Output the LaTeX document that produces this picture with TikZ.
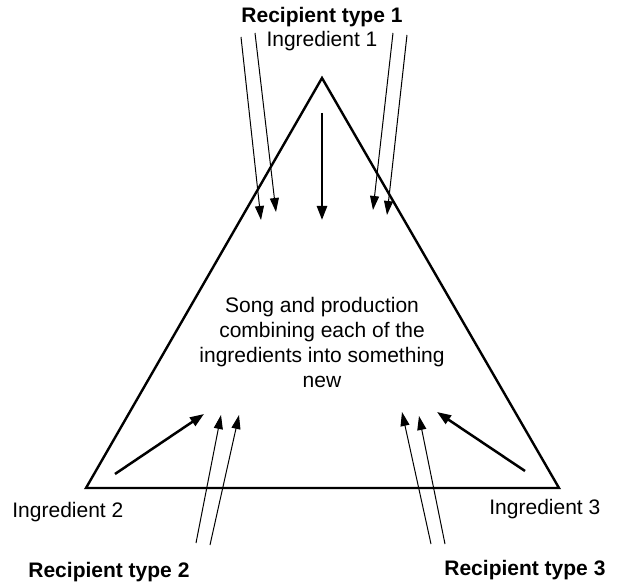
\documentclass[tikz,border=0pt]{standalone}
\usepackage{fontspec}
\setmainfont{Liberation Sans}
\usetikzlibrary{arrows.meta}

\begin{document}
\begin{tikzpicture}[x=0.5pt,y=-0.5pt]
        \tikzstyle{label}=[font=\fontsize{10.5}{12.5}\selectfont, inner sep=0pt]
        \tikzstyle{recipient}=[label, font=\fontsize{10.5}{12.5}\selectfont\bfseries]
        \tikzstyle{feed}=[line width=0.5pt, -{Triangle[length=7pt,width=4.5pt]}]
        \tikzstyle{push}=[line width=1.25pt, -{Triangle[length=7pt,width=5pt]}]
        \useasboundingbox (0,0) rectangle (617,583);
        \coordinate (apex) at (322,78);
        \coordinate (left) at (86,488);
        \coordinate (right) at (559,488);
        \draw[line width=1.2pt] (apex) -- (left) -- (right) -- cycle;
        \node[recipient, anchor=base] (rec1) at (322,23) {Recipient type 1};
        \node[label, anchor=base] (ing1) at (322,47) {Ingredient 1};
        \node[label, anchor=base west] (ing2) at (12,517) {Ingredient 2};
        \node[recipient, anchor=base west] (rec2) at (28,577) {Recipient type 2};
        \node[label, anchor=base west] (ing3) at (489,515) {Ingredient 3};
        \node[recipient, anchor=base west] (rec3) at (444,575) {Recipient type 3};
        \node[label, align=center] (song) at (322,342) {Song and production\\combining each of the\\ingredients into something\\new};
        \coordinate (a1-s) at (241,37);  \coordinate (a1-e) at (261,220);
        \coordinate (a2-s) at (255,33);  \coordinate (a2-e) at (276,212);
        \coordinate (a3-s) at (393,33);  \coordinate (a3-e) at (373,210);
        \coordinate (a4-s) at (407,35);  \coordinate (a4-e) at (387,215);
        \coordinate (b1-s) at (196,543); \coordinate (b1-e) at (221,415);
        \coordinate (b2-s) at (210,545); \coordinate (b2-e) at (239,415);
        \coordinate (c1-s) at (431,544); \coordinate (c1-e) at (402,412);
        \coordinate (c2-s) at (445,544); \coordinate (c2-e) at (419,416);
        \coordinate (m1-s) at (322,113); \coordinate (m1-e) at (322,220);
        \coordinate (m2-s) at (115,474); \coordinate (m2-e) at (204,414);
        \coordinate (m3-s) at (525,471); \coordinate (m3-e) at (437,412);
        \foreach \i in {a1,a2,a3,a4,b1,b2,c1,c2}
                \draw[feed] (\i-s) -- (\i-e);
        \foreach \i in {m1,m2,m3}
                \draw[push] (\i-s) -- (\i-e);
\end{tikzpicture}
\end{document}
